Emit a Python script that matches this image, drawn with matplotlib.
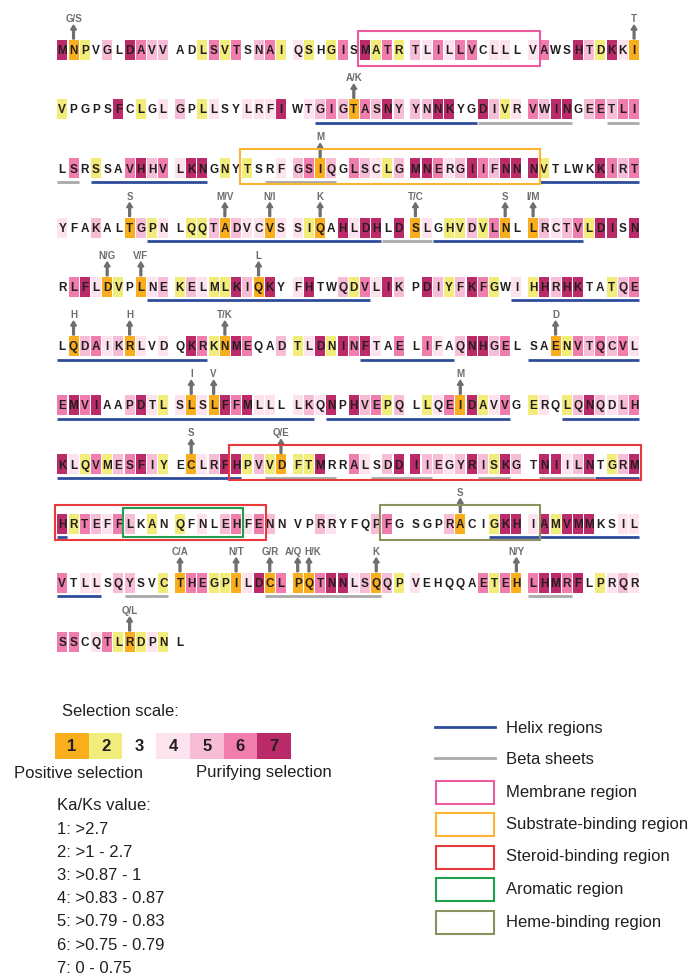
import matplotlib
matplotlib.use('Agg')
import matplotlib.pyplot as plt
from matplotlib.patches import Rectangle
from matplotlib import font_manager as fm

# sequence, 50 residues per row, spaces only mark the blocks of 10
seq_rows = [
    "MNPVGLDAVV ADLSVTSNAI QSHGISMATR TLILLVCLLL VAWSHTDKKI",
    "VPGPSFCLGL GPLLSYLRFI WTGIGTASNY YNNKYGDIVR VWINGEETLI",
    "LSRSSAVHHV LKNGNYTSRF GSIQGLSCLG MNERGIIFNN NVTLWKKIRT",
    "YFAKALTGPN LQQTADVCVS SIQAHLDHLD SLGHVDVLNL LRCTVLDISN",
    "RLFLDVPLNE KELMLKIQKY FHTWQDVLIK PDIYFKFGWI HHRHKTATQE",
    "LQDAIKRLVD QKRKNMEQAD TLDNINFTAE LIFAQNHGEL SAENVTQCVL",
    "EMVIAAPDTL SLSLFFMLLL LKQNPHVEPQ LLQEIDAVVG ERQLQNQDLH",
    "KLQVMESFIY ECLRFHPVVD FTMRRALSDD IIEGYRISKG TNIILNTGRM",
    "HRTEFFLKAN QFNLEHFENN VPRRYFQPFG SGPRACIGKH IAMVMMKSIL",
    "VTLLSQYSVC THEGPILDCL PQTNNLSQQP VEHQQAETEH LHMRFLPRQR",
    "SSCQTLRDPN L",
]

# selection scale (1..7) of every residue
level_rows = [
    "7123537655 3326263562 4232637262 5464663443 4633752741",
    "2333373234 5324334447 3456516575 5577337524 6577356566",
    "3632336756 4773232334 5615365425 7764576577 7233337656",
    "4335331524 3225154414 4213747737 1432252613 1545627737",
    "3674123145 2542275173 4733526475 3752576234 2757733256",
    "3156451434 3762176335 2472767436 3643577563 3312656564",
    "6767335742 4141767443 4547375625 3246172463 2432575456",
    "7426256752 3145772521 2273364357 7554575275 3774573257",
    "7265465323 2343564653 3354333563 3335133277 4727773344",
    "6344355332 1662214716 1167745152 4333336261 6776732454",
    "6634621242 3",
]

# (row, residue index in row, substitution label)
arrows = [(0, 1, 'G/S'), (0, 49, 'T'), (1, 25, 'A/K'), (2, 22, 'M'),
          (3, 6, 'S'), (3, 14, 'M/V'), (3, 18, 'N/I'), (3, 22, 'K'), (3, 30, 'T/C'),
          (3, 38, 'S'), (3, 40, 'I/M'), (4, 4, 'N/G'), (4, 7, 'V/F'), (4, 17, 'L'),
          (5, 1, 'H'), (5, 6, 'H'), (5, 14, 'T/K'), (5, 42, 'D'),
          (6, 11, 'I'), (6, 13, 'V'), (6, 34, 'M'), (7, 11, 'S'), (7, 19, 'Q/E'),
          (8, 34, 'S'), (9, 10, 'C/A'), (9, 15, 'N/T'), (9, 18, 'G/R'), (9, 20, 'A/Q'),
          (9, 21, 'H/K'), (9, 27, 'K'), (9, 39, 'N/Y'), (10, 6, 'Q/L')]

# (row, first, last)
helix = [(1, 22, 35), (2, 3, 12), (2, 41, 49), (3, 8, 27), (3, 32, 44), (4, 8, 26),
         (4, 39, 49), (5, 0, 12), (5, 26, 33), (5, 40, 49), (6, 0, 21), (6, 23, 38),
         (6, 43, 49), (7, 0, 15), (7, 46, 49), (8, 0, 0), (8, 37, 49), (9, 0, 3)]
beta = [(1, 36, 43), (1, 47, 49), (2, 0, 1), (2, 18, 23), (3, 28, 31), (7, 18, 23),
        (7, 27, 31), (7, 36, 38), (7, 41, 45), (9, 6, 9), (9, 18, 27), (9, 40, 43)]

# (region, row, first, last)
regions = [('membrane', 0, 26, 40), ('substrate', 2, 16, 40), ('steroid', 7, 15, 49),
           ('steroid', 8, 0, 17), ('aromatic', 8, 6, 15), ('heme', 8, 28, 40)]

kaks_labels = ['1: >2.7', '2: >1 - 2.7', '3: >0.87 - 1', '4: >0.83 - 0.87',
               '5: >0.79 - 0.83', '6: >0.75 - 0.79', '7: 0 - 0.75']
legend_names = ['Helix regions', 'Beta sheets', 'Membrane region', 'Substrate-binding region',
                'Steroid-binding region', 'Aromatic region', 'Heme-binding region']

level_colors = {'1': '#F9AE1D', '2': '#F2EC7A', '3': 'white', '4': '#FCE3EE',
                '5': '#F8BDD6', '6': '#F07DAE', '7': '#BB2A69'}
region_colors = {'membrane': '#EA5A9C', 'substrate': '#FBB533', 'steroid': '#E83A3A',
                 'aromatic': '#1EA04C', 'heme': '#8E9060'}
helix_color = '#2E4C9C'
beta_color = '#A9A9A9'
grey = '#6E6E6E'
txt = '#231F20'


def has_font(name):
    try:
        fm.findfont(fm.FontProperties(family=name), fallback_to_default=False)
        return True
    except ValueError:
        return False

if has_font('Liberation Sans Narrow'):
    res_font, res_size, lab_size = 'Liberation Sans Narrow', 10, 9.5
else:
    res_font, res_size, lab_size = 'Liberation Sans', 8.5, 7
plt.rcParams['font.family'] = ['Liberation Sans', 'DejaVu Sans']

fig = plt.figure(figsize=(6.89, 9.76), dpi=100)
ax = fig.add_axes([0, 0, 1, 1])
ax.set_xlim(0, 689)
ax.set_ylim(976, 0)
ax.axis('off')

X0, PITCH, GAP = 62.3, 11.22, 5.5
Y0, STEP = 50, 59.2
BW, BH = 10, 20
# small sideways nudge for the two crowded labels in row 10
nudge = {(9, 20): -4, (9, 21): 4}


def xpos(i):
    return X0 + i * PITCH + (i // 10) * GAP


def ypos(r):
    return Y0 + r * STEP


cap = res_size * 100 / 72 * 0.716
for r, (s, lv) in enumerate(zip(seq_rows, level_rows)):
    s = s.replace(' ', '')
    lv = lv.replace(' ', '')
    yc = ypos(r)
    for i, (aa, l) in enumerate(zip(s, lv)):
        x = xpos(i)
        if l != '3':
            ax.add_patch(Rectangle((x - BW / 2, yc - BH / 2), BW, BH, facecolor=level_colors[l],
                                   edgecolor='none', zorder=1))
        ax.text(x, yc + cap / 2, aa, ha='center', va='baseline', fontsize=res_size,
                fontweight='bold', family=res_font, color=txt, zorder=3)

for r, i, lab in arrows:
    x, yc = xpos(i), ypos(r)
    ax.arrow(x, yc - 11, 0, -14, width=1.8, head_width=6, head_length=5,
             length_includes_head=True, color=grey, zorder=3)
    ax.text(x + nudge.get((r, i), 0), yc - 31, lab, ha='center', va='center',
            fontsize=lab_size, fontweight='bold', family=res_font, color=grey)

for segs, col in [(helix, helix_color), (beta, beta_color)]:
    for r, a, b in segs:
        yl = ypos(r) + 13.5
        ax.plot([xpos(a) - BW / 2, xpos(b) + BW / 2], [yl, yl], color=col, lw=2.0,
                solid_capstyle='butt', zorder=2)

for name, r, a, b in regions:
    yc = ypos(r)
    x1, x2 = xpos(a) - BW / 2 - 2, xpos(b) + BW / 2 + 2
    top, bot = yc - 19, yc + 16
    if name == 'aromatic':
        top, bot = yc - 16, yc + 13
    ax.add_patch(Rectangle((x1, top), x2 - x1, bot - top, facecolor='none',
                           edgecolor=region_colors[name], lw=1.5, zorder=4))

# selection scale legend
ax.text(62, 712, 'Selection scale:', fontsize=12, va='center', color=txt)
cw = (291 - 55) / 7
for k, l in enumerate(sorted(level_colors)):
    ax.add_patch(Rectangle((55 + k * cw, 733), cw, 26, facecolor=level_colors[l], edgecolor='none'))
    ax.text(55 + (k + 0.5) * cw, 746.5, l, ha='center', va='center', fontsize=12,
            fontweight='bold', color=txt)
ax.text(78, 773, 'Positive selection', ha='center', va='center', fontsize=12, color=txt)
ax.text(264, 773, 'Purifying selection', ha='center', va='center', fontsize=12, color=txt)
ax.text(57, 805, 'Ka/Ks value:', fontsize=12, va='center', color=txt)
for k, lab in enumerate(kaks_labels):
    ax.text(57, 829 + k * 23.2, lab, fontsize=12, va='center', color=txt)

# structure legend
ax.plot([435, 495], [727, 727], color=helix_color, lw=2)
ax.plot([435, 495], [758, 758], color=beta_color, lw=2)
for k, name in enumerate(['membrane', 'substrate', 'steroid', 'aromatic', 'heme']):
    yc = 792 + k * 32.5
    ax.add_patch(Rectangle((436, yc - 11.5), 58, 23, facecolor='none',
                           edgecolor=region_colors[name], lw=1.5))
for k, name in enumerate(legend_names):
    yc = [728, 759][k] if k < 2 else 792 + (k - 2) * 32.5
    ax.text(506, yc, name, fontsize=12, va='center', color=txt)

fig.savefig('out.png', dpi=100)
